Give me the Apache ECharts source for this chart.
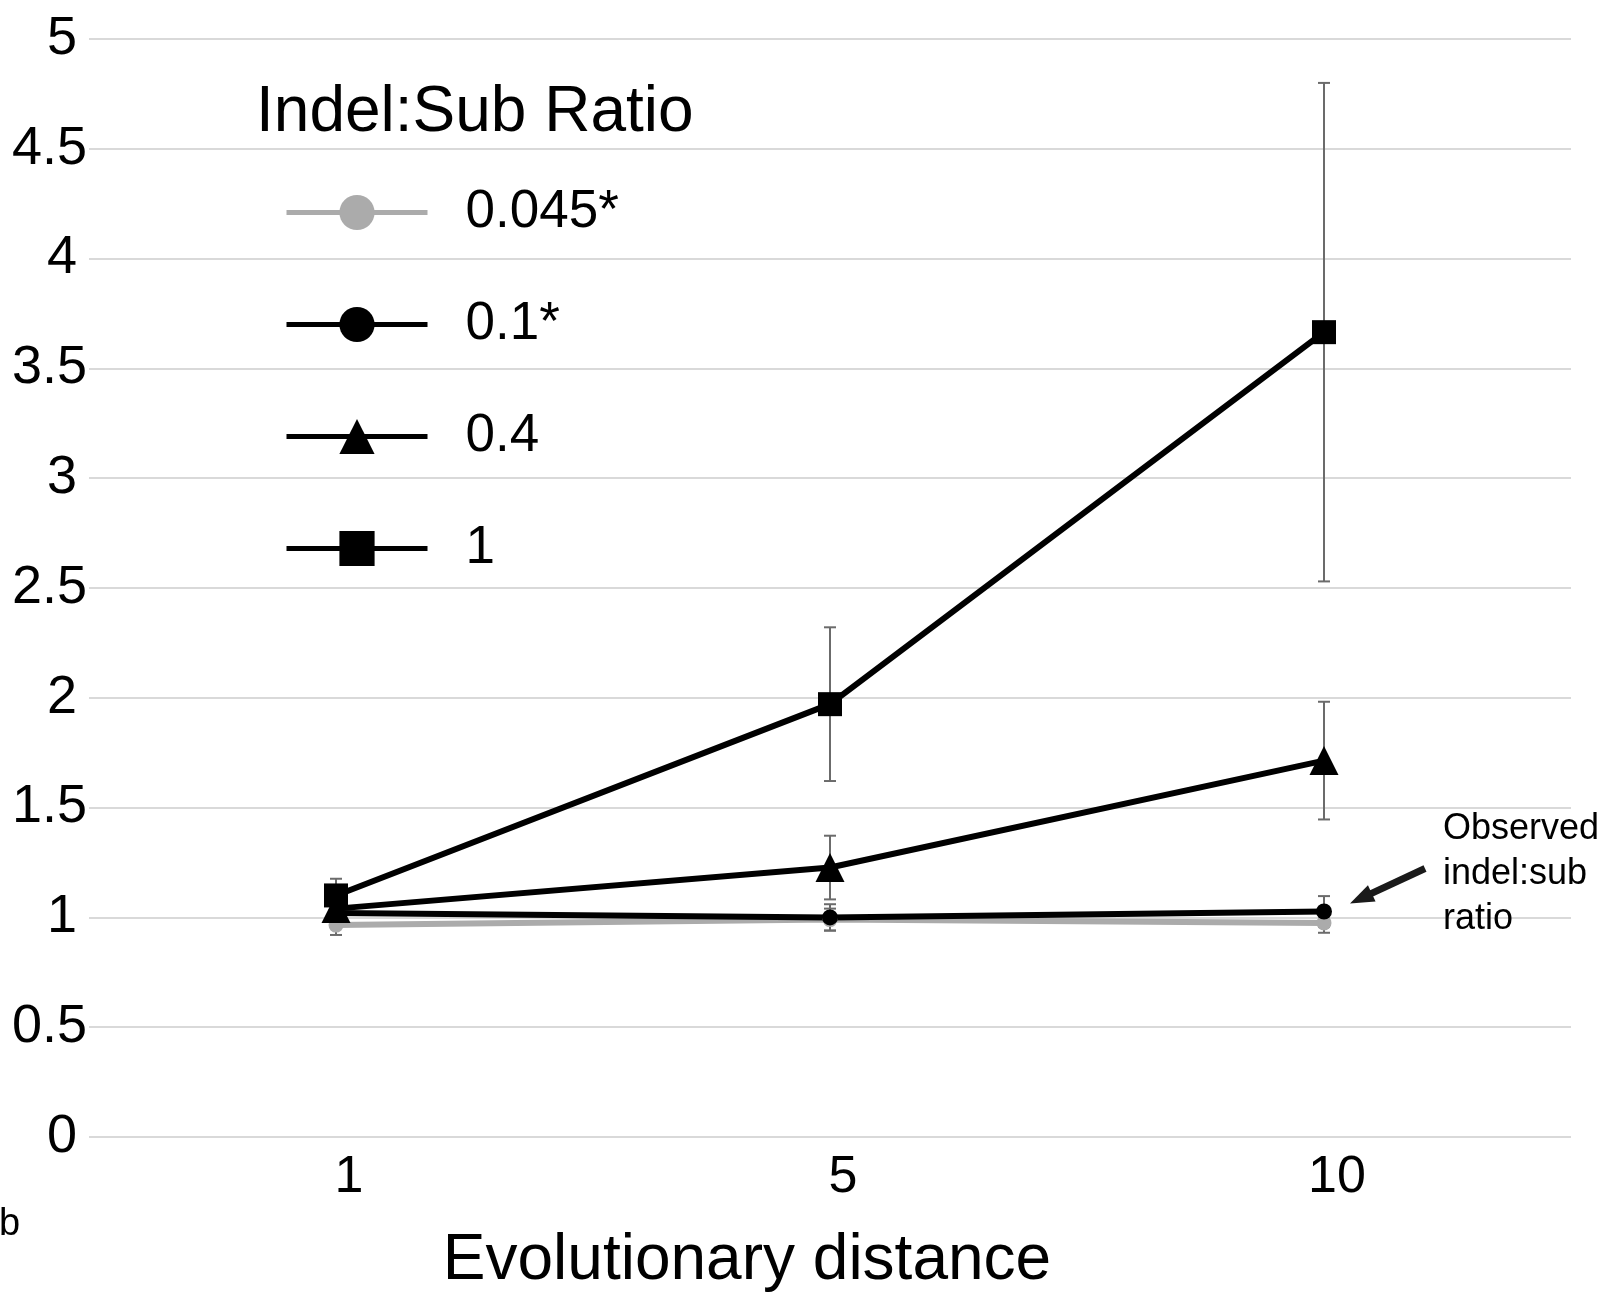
<!DOCTYPE html>
<html>
<head>
<meta charset="utf-8">
<script src="https://cdn.jsdelivr.net/npm/echarts@6/dist/echarts.min.js"></script>
<style>
html,body{margin:0;padding:0;background:#fff;}
#c{width:1611px;height:1298px;}
</style>
</head>
<body>
<div id="c"></div>
<script>
// ---- data ----
var categories = ['1', '5', '10'];
var seriesNames = ['0.045*', '0.1*', '0.4', '1'];
var r0045 = [0.965, 0.99, 0.975];
var err0045 = [0.045, 0.05, 0.045];
var r01 = [1.02, 1.00, 1.027];
var err01 = [0.05, 0.06, 0.07];
var r04 = [1.04, 1.227, 1.714];
var err04 = [0.05, 0.145, 0.268];
var r1 = [1.10, 1.971, 3.665];
var err1 = [0.076, 0.35, 1.135];
var yTicks = [0, 5, 0.5]; // min, max, interval

var FONT = '"Liberation Sans", Arial, Helvetica, sans-serif';
var chart = echarts.init(document.getElementById('c'), null, {renderer: 'canvas'});

function errData(vals, errs) {
  return vals.map(function (v, i) { return [i, v - errs[i], v + errs[i]]; });
}
function errSeries(vals, errs) {
  return {
    type: 'custom',
    z: 1,
    silent: true,
    data: errData(vals, errs),
    encode: {x: 0, y: [1, 2]},
    renderItem: function (params, api) {
      var x = api.value(0);
      var top = api.coord([x, api.value(2)]);
      var bot = api.coord([x, api.value(1)]);
      var hw = 6;
      var st = {stroke: '#6b6b6b', lineWidth: 2};
      return {
        type: 'group',
        children: [
          {type: 'line', shape: {x1: top[0], y1: top[1], x2: bot[0], y2: bot[1]}, style: st},
          {type: 'line', shape: {x1: top[0] - hw, y1: top[1], x2: top[0] + hw, y2: top[1]}, style: st},
          {type: 'line', shape: {x1: bot[0] - hw, y1: bot[1], x2: bot[0] + hw, y2: bot[1]}, style: st}
        ]
      };
    }
  };
}
function lineSeries(name, vals, color, symbol, size) {
  return {
    name: name,
    type: 'line',
    z: 3,
    data: vals,
    symbol: symbol,
    symbolSize: size,
    showSymbol: true,
    itemStyle: {color: color, borderWidth: 0},
    lineStyle: {color: color, width: 6},
    emphasis: {disabled: true},
    animation: false
  };
}

function yLabel(v) {
  return (v % 1 === 0) ? '{i|' + v + '}' : '{h|' + v + '}';
}

var option = {
  backgroundColor: '#fff',
  animation: false,
  textStyle: {fontFamily: FONT},
  title: {
    text: 'Indel:Sub Ratio',
    left: 251,
    top: 76,
    textStyle: {fontFamily: FONT, fontSize: 64, fontWeight: 'normal', color: '#000'}
  },
  legend: {
    orient: 'vertical',
    left: 284,
    top: 186,
    padding: 0,
    itemWidth: 141,
    itemHeight: 44,
    itemGap: 59,
    data: seriesNames,
    lineStyle: {width: 5},
    textStyle: {fontFamily: FONT, fontSize: 53, color: '#000', padding: [0, 0, 0, 33]},
    selectedMode: false
  },
  grid: {left: 89, right: 40, top: 39, bottom: 149, containLabel: false},
  xAxis: {
    type: 'category',
    data: categories,
    boundaryGap: true,
    axisLine: {show: false},
    axisTick: {show: false},
    splitLine: {show: false},
    axisLabel: {fontFamily: FONT, fontSize: 52, color: '#000', margin: 15, padding: [0, 0, 0, 26]},
    name: 'Evolutionary distance',
    nameLocation: 'middle',
    nameGap: 92,
    nameTextStyle: {fontFamily: FONT, fontSize: 64, color: '#000', padding: [0, 166, 0, 0]}
  },
  yAxis: {
    type: 'value',
    min: yTicks[0],
    max: yTicks[1],
    interval: yTicks[2],
    axisLine: {show: false},
    axisTick: {show: false},
    splitLine: {lineStyle: {color: '#d9d9d9', width: 2}},
    axisLabel: {
      fontFamily: FONT, fontSize: 54, color: '#000', margin: 2,
      formatter: yLabel,
      rich: {
        i: {fontFamily: FONT, fontSize: 54, color: '#000', padding: [0, 10, 0, 0]},
        h: {fontFamily: FONT, fontSize: 54, color: '#000'}
      }
    }
  },
  series: [
    errSeries(r0045, err0045),
    errSeries(r01, err01),
    errSeries(r04, err04),
    errSeries(r1, err1),
    lineSeries(seriesNames[0], r0045, '#ababab', 'circle', 15),
    lineSeries(seriesNames[1], r01, '#000', 'circle', 16),
    lineSeries(seriesNames[2], r04, '#000', 'triangle', 29),
    lineSeries(seriesNames[3], r1, '#000', 'rect', 24)
  ]
};
chart.setOption(option);

// annotation placed relative to the 0.1* point at distance 10
var p = chart.convertToPixel({gridIndex: 0}, [2, r01[2]]);
var tail = [p[0] + 101, p[1] - 43];
var tip = [p[0] + 26, p[1] - 8];
var dx = tip[0] - tail[0], dy = tip[1] - tail[1];
var len = Math.sqrt(dx * dx + dy * dy);
var ux = dx / len, uy = dy / len, nx = -uy, ny = ux;
var headLen = 24, headW = 9;
var base = [tip[0] - ux * headLen, tip[1] - uy * headLen];
chart.setOption({
  graphic: [
    {
      type: 'text', left: p[0] + 119, top: p[1] - 105, silent: true,
      style: {text: 'Observed\nindel:sub\nratio', font: '36px ' + FONT, fill: '#000', lineHeight: 45}
    },
    {
      type: 'line', silent: true,
      shape: {x1: tail[0], y1: tail[1], x2: base[0] + ux * 2, y2: base[1] + uy * 2},
      style: {stroke: '#1a1a1a', lineWidth: 7}
    },
    {
      type: 'polygon', silent: true,
      shape: {points: [tip, [base[0] + nx * headW, base[1] + ny * headW], [base[0] - nx * headW, base[1] - ny * headW]]},
      style: {fill: '#1a1a1a'}
    },
    {
      type: 'text', left: -1, top: 1206, silent: true,
      style: {text: 'b', font: '38px ' + FONT, fill: '#000'}
    }
  ]
});
</script>
</body>
</html>
